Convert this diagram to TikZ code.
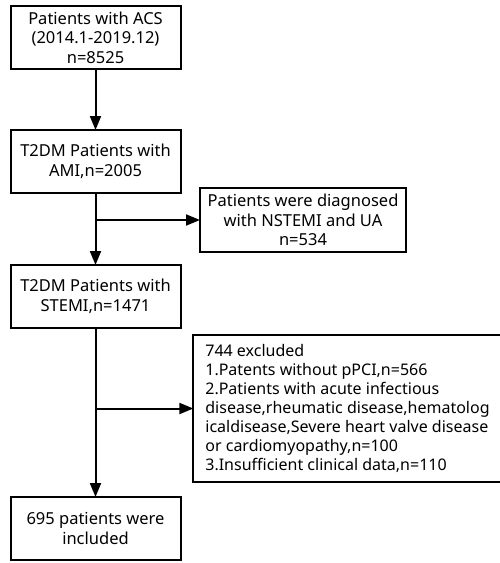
\documentclass[tikz,border=0pt]{standalone}
\usepackage{fontspec}
\setmainfont{Noto Sans}
\usetikzlibrary{positioning,arrows.meta}

\tikzset{
  box/.style={draw, line width=2pt, outer sep=0pt, minimum width=170pt, minimum height=63pt,
    align=center, font=\fontsize{16.5}{19.5}\selectfont, inner sep=2pt},
  sidebox/.style={draw, line width=2pt, outer sep=0pt, align=left,
    font=\fontsize{16}{19}\selectfont, inner xsep=12pt, inner ysep=2pt},
  flow/.style={line width=2pt, -{Triangle[length=14pt,width=11pt]}}
}

\begin{document}
\begin{tikzpicture}[x=1pt,y=1pt]
  \useasboundingbox (0,0) rectangle (500,-563);

  \node[box] (acs) at (95.5,-37.5) {Patients with ACS\\(2014.1-2019.12)\\n=8525};
  \node[box, below=61pt of acs] (ami) {T2DM Patients with\\AMI,n=2005};
  \node[box, below=72pt of ami] (stemi) {T2DM Patients with\\STEMI,n=1471};
  \node[box, below=169pt of stemi] (incl) {695 patients were\\included};

  \node[box, minimum width=206pt, minimum height=64pt] (nstemi) at (303,-220)
    {Patients were diagnosed\\with NSTEMI and UA\\n=534};
  \node[sidebox, minimum width=295pt, minimum height=147pt] (excl) at (347.5,-408.5)
    {744 excluded\\1.Patents without pPCI,n=566\\2.Patients with acute infectious\\disease,rheumatic disease,hematolog\\icaldisease,Severe heart valve disease\\or cardiomyopathy,n=100\\3.Insufficient clinical data,n=110};

  % main flow
  \draw[flow] (acs) -- (ami);
  \draw[flow] (ami) -- (stemi);
  \draw[flow] (stemi) -- (incl);

  % exclusions
  \coordinate (b1) at (ami.south |- nstemi.west);
  \coordinate (b2) at (stemi.south |- excl.west);
  \draw[flow] (b1) -- (nstemi);
  \draw[flow] (b2) -- (excl);
\end{tikzpicture}
\end{document}
